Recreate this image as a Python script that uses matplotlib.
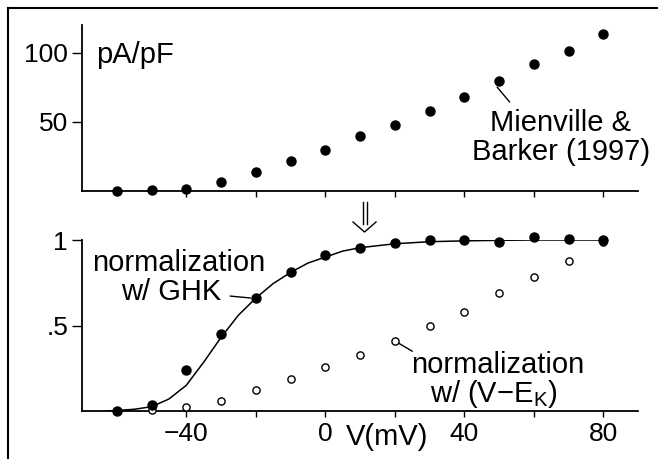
import matplotlib
matplotlib.use("Agg")
import matplotlib.pyplot as plt
from matplotlib.lines import Line2D

plt.rcParams["font.family"] = ["Liberation Sans", "DejaVu Sans"]
plt.rcParams["mathtext.fontset"] = "custom"
plt.rcParams["mathtext.rm"] = "Liberation Sans"
plt.rcParams["mathtext.it"] = "Liberation Sans"

# --- data ---
voltage = [-60, -50, -40, -30, -20, -10, 0, 10, 20, 30, 40, 50, 60, 70, 80]
current_density = [0.0, 0.5, 1.7, 6.8, 13.8, 21.7, 29.7, 39.4, 47.6, 57.5,
                   67.6, 79.7, 91.8, 101.4, 113.5]
norm_ghk = [0.0, 0.035, 0.24, 0.45, 0.66, 0.81, 0.91, 0.955, 0.985, 1.0,
            1.0, 0.99, 1.015, 1.005, 1.0]
norm_vek = [0.0, 0.005, 0.025, 0.06, 0.12, 0.19, 0.26, 0.33, 0.41, 0.50,
            0.58, 0.69, 0.785, 0.88, 0.99]
fit_v = [-63, -60, -55, -50, -45, -40, -35, -30, -25, -20, -15, -10, -5, 0,
         5, 10, 20, 30, 40, 50, 60, 70, 80]
fit_g = [0.0, 0.003, 0.01, 0.025, 0.07, 0.15, 0.285, 0.43, 0.56, 0.66, 0.745,
         0.81, 0.865, 0.90, 0.935, 0.955, 0.978, 0.99, 0.995, 0.998, 1.0, 1.0, 1.0]

x_ticks = [-40, -20, 0, 20, 40, 60, 80]
x_labels = ["\u221240", "", "0", "", "40", "", "80"]

W, H = 658, 459
TICK_FS = 19
TEXT_FS = 21
LW = 1.3

fig = plt.figure(figsize=(W / 100, H / 100), dpi=100)


def px_axes(left, top, right, bottom):
    return fig.add_axes([left / W, 1 - bottom / H, (right - left) / W, (bottom - top) / H])


def fig_line(xs, ys, lw=1.0):
    # pixel coords (origin top-left) -> figure fraction
    fig.add_artist(Line2D([x / W for x in xs], [1 - y / H for y in ys],
                          color="black", lw=lw, transform=fig.transFigure))


def style_axes(ax):
    for side in ("top", "right"):
        ax.spines[side].set_visible(False)
    for side in ("left", "bottom"):
        ax.spines[side].set_linewidth(LW)
    ax.set_xlim(-70, 90)
    ax.set_xticks(x_ticks)
    ax.tick_params(axis="x", direction="out", length=4, width=1.0,
                   labelsize=TICK_FS, pad=4)
    ax.tick_params(axis="y", direction="out", length=7, width=1.0,
                   labelsize=TICK_FS, pad=3)


# top panel: current density
ax1 = px_axes(82, 25, 638, 191)
style_axes(ax1)
ax1.set_ylim(0, 120)
ax1.set_yticks([50, 100])
ax1.set_xticklabels([])
ax1.plot(voltage, current_density, "o", color="black", markersize=6.5,
         clip_on=False, zorder=3)
ax1.text(-66, 98, "pA/pF", fontsize=TEXT_FS, ha="left", va="center")
ax1.text(67.8, 49.5, "Mienville &", fontsize=TEXT_FS, ha="center", va="center")
ax1.text(67.8, 28.5, "Barker (1997)", fontsize=TEXT_FS, ha="center", va="center")
ax1.plot([49.5, 53], [75, 64.5], color="black", lw=1.0)

# bottom panel: normalized conductance
ax2 = px_axes(82, 240, 638, 411)
style_axes(ax2)
ax2.set_ylim(0, 1)
ax2.set_yticks([0.5, 1])
ax2.set_yticklabels([".5", "1"])
ax2.set_xticklabels(x_labels)
ax2.plot(fit_v, fit_g, color="black", lw=1.1, zorder=2)
ax2.plot(voltage, norm_vek, "o", markerfacecolor="white", markeredgecolor="black",
         markeredgewidth=1.0, markersize=5.2, clip_on=False, zorder=3)
ax2.plot(voltage, norm_ghk, "o", color="black", markersize=6.5,
         clip_on=False, zorder=4)

ax2.text(-42.3, 0.865, "normalization", fontsize=TEXT_FS, ha="center", va="center")
ax2.text(-44.3, 0.696, "w/ GHK", fontsize=TEXT_FS, ha="center", va="center")
ax2.plot([-27.3, -21.6], [0.672, 0.661], color="black", lw=1.0)

ax2.text(49.5, 0.268, "normalization", fontsize=TEXT_FS, ha="center", va="center")
ax2.text(48.6, 0.100, r"w/ (V$-$E$_{\rm K}$)", fontsize=TEXT_FS,
         ha="center", va="center")
ax2.plot([21, 25], [0.398, 0.350], color="black", lw=1.0)

ax2.text(17.8, -0.152, "V(mV)", fontsize=TEXT_FS, ha="center", va="center")

# double arrow between the panels
fig_line([363.3, 363.3], [202, 224])
fig_line([367.3, 367.3], [202, 224])
fig_line([353, 364.5, 376], [222, 232, 222])

# frame lines (top and left)
fig_line([8, W], [8, 8], lw=1.5)
fig_line([8, 8], [8, H], lw=1.5)

fig.savefig("out.png", dpi=100)
